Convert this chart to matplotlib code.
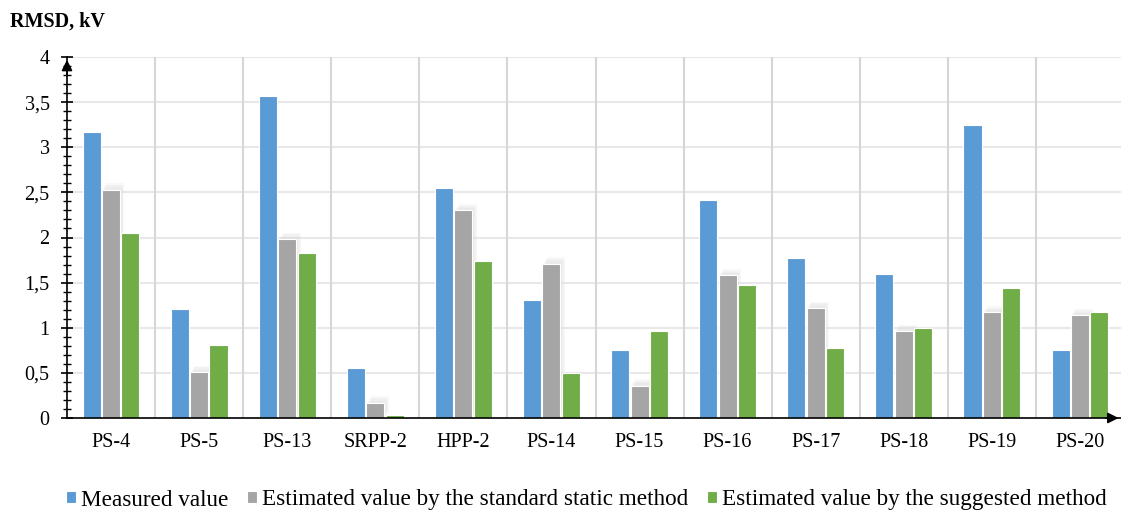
import matplotlib as mpl
mpl.use('Agg')
import matplotlib.pyplot as plt
import matplotlib.patheffects as pe
from matplotlib.ticker import MultipleLocator, FuncFormatter

categorias = ['PS-4', 'PS-5', 'PS-13', 'SRPP-2', 'HPP-2', 'PS-14', 'PS-15',
              'PS-16', 'PS-17', 'PS-18', 'PS-19', 'PS-20']
medido = [3.17, 1.21, 3.57, 0.55, 2.55, 1.31, 0.75, 2.42, 1.77, 1.60, 3.25, 0.75]
padrao = [2.53, 0.51, 1.98, 0.17, 2.30, 1.71, 0.36, 1.58, 1.22, 0.96, 1.17, 1.14]
sugerido = [2.05, 0.81, 1.83, 0.03, 1.74, 0.50, 0.96, 1.47, 0.78, 1.00, 1.44, 1.17]
nomes = ['Measured value', 'Estimated value by the standard static method',
         'Estimated value by the suggested method']
cores = ['#5B9BD5', '#A5A5A5', '#70AD47']

plt.rcParams['font.family'] = ['Liberation Serif', 'DejaVu Serif']

fig = plt.figure(figsize=(11.21, 5.20), dpi=100)
ax = fig.add_axes([67 / 1121, 102 / 520, 1057 / 1121, 361 / 520])

x = list(range(len(categorias)))
passo = 0.22
largura = 0.205
series = [medido, padrao, sugerido]
for k, (vals, cor, nome) in enumerate(zip(series, cores, nomes)):
    pos = [i + (k - 1) * passo for i in x]
    barras = ax.bar(pos, vals, largura, color=cor, edgecolor='white',
                    linewidth=0.8, label=nome, zorder=2)
    if k == 1:
        # sombra suave atras das barras cinzas
        efeitos = []
        for d in [4.5, 3.5, 2.5, 1.5]:
            efeitos.append(pe.SimplePatchShadow(offset=(d * 0.7, d), shadow_rgbFace='#dcdcdc',
                                                alpha=0.18))
        efeitos.append(pe.Normal())
        for b in barras:
            b.set_path_effects(efeitos)

ax.set_xlim(-0.5, len(categorias) - 0.5)
ax.set_ylim(0, 4)

for yv in [0.5 * i for i in range(1, 9)]:
    ax.axhline(yv, color='#e8e8e8', lw=1.5, zorder=1)
for xv in [i + 0.5 for i in range(len(categorias) - 1)]:
    ax.axvline(xv, color='#d6d6d6', lw=1.5, zorder=1)

for s in ['top', 'right']:
    ax.spines[s].set_visible(False)
for s in ['left', 'bottom']:
    ax.spines[s].set_linewidth(1.2)
    ax.spines[s].set_zorder(4)

ax.set_xticks(x)
ax.set_xticklabels(categorias)
ax.tick_params(axis='x', length=0, pad=11, labelsize=14.5)

ax.yaxis.set_major_locator(MultipleLocator(0.5))
ax.yaxis.set_minor_locator(MultipleLocator(0.1))
ax.yaxis.set_major_formatter(FuncFormatter(lambda v, p: ('%g' % v).replace('.', ',')))
ax.tick_params(axis='y', which='major', direction='inout', length=9, width=1.2,
               pad=8, labelsize=14.5)
ax.tick_params(axis='y', which='minor', direction='inout', length=6, width=1)

# setas nos eixos
ax.annotate('', xy=(0, 1.0), xycoords='axes fraction', xytext=(0, 0.94),
            arrowprops=dict(arrowstyle='-|>', color='black', lw=1.2,
                            mutation_scale=16), zorder=5)
ax.annotate('', xy=(0.9975, 0), xycoords='axes fraction', xytext=(0.98, 0),
            arrowprops=dict(arrowstyle='-|>', color='black', lw=1.2,
                            mutation_scale=16), annotation_clip=False, zorder=5)

fig.text(10 / 1121, 1 - 22 / 520, 'RMSD, kV', fontsize=14.5, fontweight='bold',
         va='center', ha='left')

leg = fig.legend(loc='center', bbox_to_anchor=(0.523, 1 - 500 / 520), ncol=3,
                 frameon=False, fontsize=16.7, handlelength=0.45, handleheight=0.45,
                 handletextpad=0.2, columnspacing=0.8, borderaxespad=0)
for h in leg.legend_handles:
    h.set_path_effects([])

plt.savefig('out.png', dpi=100)
